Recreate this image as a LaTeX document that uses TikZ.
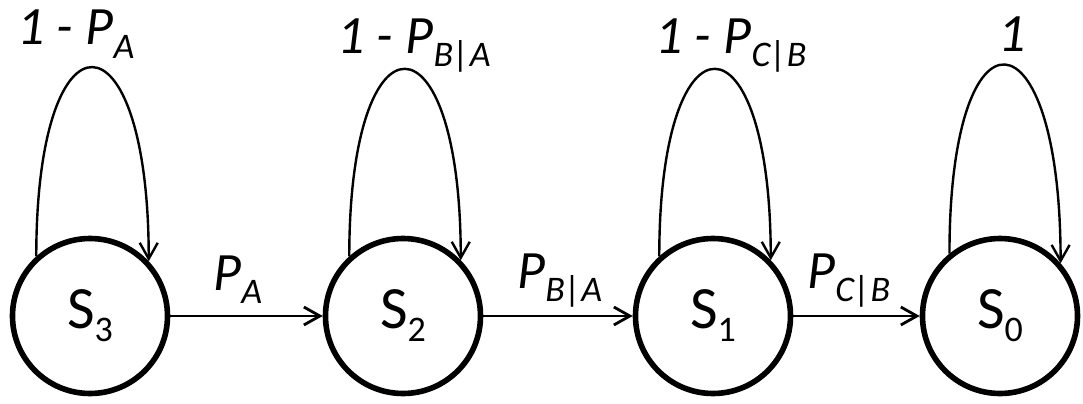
\documentclass[tikz,border=0pt]{standalone}
\usepackage{fontspec}
\setmainfont{Carlito}
\usepackage{tikz}
\usetikzlibrary{arrows.meta}

\newcommand{\lowtext}[1]{\raisebox{-6.5pt}{\fontsize{18pt}{18pt}\selectfont #1}}

\begin{document}
\begin{tikzpicture}[x=0.5pt,y=0.5pt,
  state/.style={draw,circle,line width=2.8pt,minimum size=77.5pt,inner sep=0pt,font=\fontsize{30pt}{30pt}\selectfont},
  trans/.style={line width=1.4pt,-{Straight Barb[length=8pt,width=9pt]}},
  selfloop/.style={line width=1.2pt,-{Straight Barb[length=8pt,width=9pt]}},
  prob/.style={anchor=base west,inner sep=0pt,font=\fontsize{27pt}{27pt}\selectfont\itshape}]
\useasboundingbox (0,0) rectangle (1083,403);
\node[state] (s3) at (90,87) {S\lowtext{3}};
\node[state] (s2) at (403,87) {S\lowtext{2}};
\node[state] (s1) at (713,87) {S\lowtext{1}};
\node[state] (s0) at (1000,87) {S\lowtext{0}};
\draw[trans] (s3) -- (s2);
\draw[trans] (s2) -- (s1);
\draw[trans] (s1) -- (s0);
\draw[selfloop] (s3.132) .. controls +(0,255) and +(0,255) .. (s3.43);
\draw[selfloop] (s2.132) .. controls +(0,252) and +(0,252) .. (s2.44);
\draw[selfloop] (s1.132) .. controls +(0,252) and +(0,252) .. (s1.44);
\draw[selfloop] (s0.129) .. controls +(0,258) and +(0,258) .. (s0.41);
\node[prob] (l3) at (17,358) {1 - P\lowtext{A}};
\node[prob] (l2) at (337,350) {1 - P\lowtext{B|A}};
\node[prob] (l1) at (655,350) {1 - P\lowtext{C|B}};
\node[prob] (l0) at (998,351) {1};
\node[prob] (p3) at (213,113) {P\lowtext{A}};
\node[prob] (p2) at (517,115) {P\lowtext{B|A}};
\node[prob] (p1) at (807,115) {P\lowtext{C|B}};
\end{tikzpicture}
\end{document}
